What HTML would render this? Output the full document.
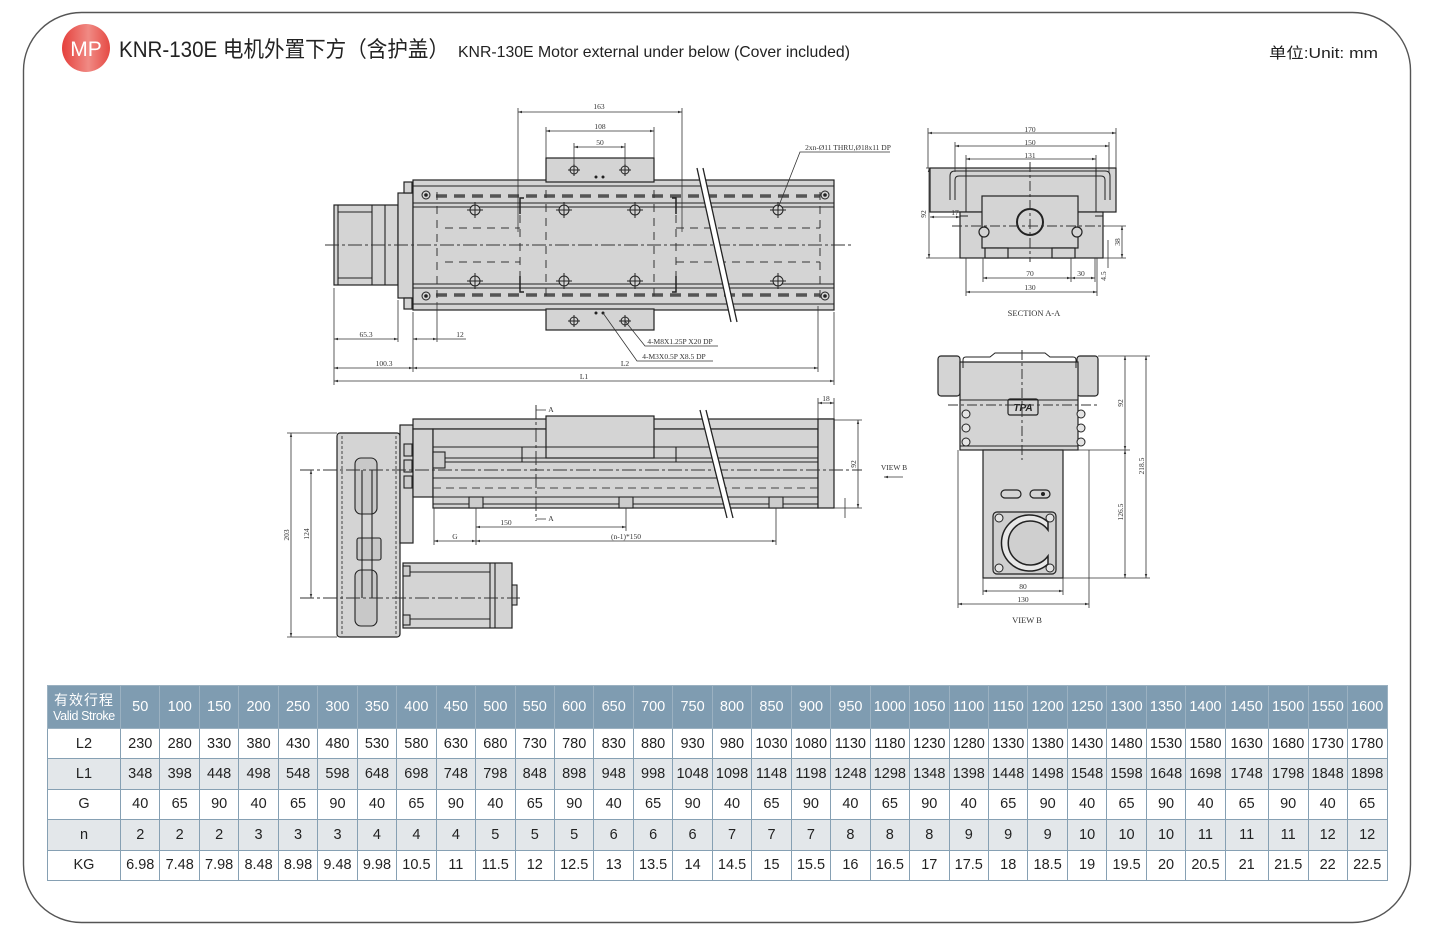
<!DOCTYPE html>
<html><head><meta charset="utf-8">
<style>
html,body{margin:0;padding:0;background:#fff;}
body{width:1440px;height:936px;position:relative;overflow:hidden;font-family:"Liberation Sans","Noto Sans CJK SC",sans-serif;}
svg{position:absolute;left:0;top:0;}
table{position:absolute;left:47px;top:685px;border-collapse:collapse;table-layout:fixed;width:1340px;}
td{border:1px solid #86a0b3;text-align:center;font-size:14.5px;color:#222;padding:0;height:29.4px;white-space:nowrap;overflow:hidden;}
tr.h td{background:#7f9cb1;color:#fff;height:42px;font-size:14.5px;border-color:#9bb1c1;}
tr.g td{background:#e3e7ea;}
.vs{font-size:12.5px;letter-spacing:-0.4px;display:block;line-height:14px;}
.cn{font-size:14px;display:block;line-height:17px;letter-spacing:1px;}
</style></head><body>
<svg width="1440" height="936" viewBox="0 0 1440 936" xmlns="http://www.w3.org/2000/svg">
<defs>
<marker id="a" viewBox="0 0 10 10" refX="10" refY="5" markerWidth="5" markerHeight="5" orient="auto-start-reverse"><path d="M0,2 L10,5 L0,8z" fill="#333"/></marker>
<linearGradient id="mp" x1="0" y1="0" x2="1" y2="0"><stop offset="0" stop-color="#e5403c"/><stop offset="0.55" stop-color="#f08a84"/><stop offset="1" stop-color="#e54a44"/></linearGradient>
</defs>
<!-- frame -->
<rect x="23.5" y="12.5" width="1387" height="910" rx="58" ry="58" fill="none" stroke="#555" stroke-width="1.4"/>
<!-- header -->
<circle cx="86" cy="48" r="24" fill="url(#mp)"/>
<text x="86" y="56" text-anchor="middle" font-family="Liberation Sans, sans-serif" font-size="21" fill="#fff">MP</text>
<text x="119" y="57" font-family="Liberation Sans, 'Noto Sans CJK SC', sans-serif" font-size="22" fill="#222" textLength="330" lengthAdjust="spacingAndGlyphs">KNR-130E 电机外置下方（含护盖）</text>
<text x="458" y="57" font-family="Liberation Sans, sans-serif" font-size="16" fill="#222" textLength="392" lengthAdjust="spacingAndGlyphs">KNR-130E Motor external under below (Cover included)</text>
<text x="1269" y="58" font-family="Liberation Sans, 'Noto Sans CJK SC', sans-serif" font-size="15" fill="#222" textLength="109" lengthAdjust="spacingAndGlyphs">单位:Unit: mm</text>

<!-- ============ TOP VIEW ============ -->
<g fill="#d4d4d4" stroke="#222" stroke-width="1.2">
 <rect x="334" y="205" width="64" height="80"/>
 <rect x="398" y="193" width="15" height="105"/>
 <rect x="404" y="182" width="8" height="11"/>
 <rect x="404" y="298" width="8" height="11"/>
 <rect x="413" y="180" width="421" height="130"/>
 <rect x="546" y="158" width="108" height="24"/>
 <rect x="546" y="309" width="108" height="21"/>
</g>
<g stroke="#222" stroke-width="1.1" fill="none">
 <line x1="338" y1="205" x2="338" y2="285"/>
 <line x1="338" y1="212" x2="372" y2="212"/><line x1="338" y1="278" x2="372" y2="278"/>
 <line x1="372" y1="205" x2="372" y2="285"/><line x1="385" y1="205" x2="385" y2="285"/>
 <line x1="413" y1="186" x2="834" y2="186"/><line x1="413" y1="304" x2="834" y2="304"/>
 <line x1="413" y1="203" x2="834" y2="203"/><line x1="413" y1="207" x2="834" y2="207"/>
 <line x1="413" y1="284" x2="834" y2="284"/><line x1="413" y1="288" x2="834" y2="288"/>
 <line x1="546" y1="182" x2="654" y2="182"/>
</g>
<g stroke="#555" stroke-width="3.5" stroke-dasharray="11 7">
 <line x1="436" y1="196" x2="820" y2="196"/>
 <line x1="436" y1="295" x2="820" y2="295"/>
</g>
<g stroke="#333" stroke-width="1" stroke-dasharray="8 6" fill="none">
 <line x1="445" y1="228" x2="520" y2="228"/><line x1="445" y1="262" x2="520" y2="262"/>
 <line x1="676" y1="228" x2="820" y2="228"/><line x1="676" y1="262" x2="820" y2="262"/>
 <line x1="437" y1="192" x2="437" y2="300"/>
 <line x1="520" y1="215" x2="520" y2="280"/>
 <line x1="546" y1="190" x2="546" y2="300"/>
 <line x1="654" y1="190" x2="654" y2="300"/>
 <line x1="676" y1="215" x2="676" y2="280"/>
 <line x1="820" y1="192" x2="820" y2="300"/>
</g>
<g stroke="#222" stroke-width="1.5" fill="none">
 <path d="M524,198 H520 V214 M524,292 H520 V276 M672,198 H676 V214 M672,292 H676 V276"/>
</g>
<line x1="325" y1="245" x2="853" y2="245" stroke="#333" stroke-width="1" stroke-dasharray="14 3 3 3"/>
<!-- holes -->
<g stroke="#222" stroke-width="1" fill="#d4d4d4">
 <circle cx="475" cy="210" r="5"/><circle cx="475" cy="281" r="5"/>
 <circle cx="564" cy="210" r="5"/><circle cx="564" cy="281" r="5"/>
 <circle cx="635" cy="210" r="5"/><circle cx="635" cy="281" r="5"/>
 <circle cx="778" cy="210" r="5"/><circle cx="778" cy="281" r="5"/>
 <circle cx="574" cy="170" r="4"/><circle cx="625" cy="170" r="4"/>
 <circle cx="574" cy="321" r="4"/><circle cx="625" cy="321" r="4"/>
 <circle cx="426" cy="195" r="4"/><circle cx="426" cy="296" r="4"/>
 <circle cx="825" cy="195" r="4"/><circle cx="825" cy="296" r="4"/>
</g>
<g stroke="#222" stroke-width="1">
 <path d="M475,202V218M467,210H483M475,273V289M467,281H483M564,202V218M556,210H572M564,273V289M556,281H572M635,202V218M627,210H643M635,273V289M627,281H643M778,202V218M770,210H786M778,273V289M770,281H786"/>
 <path d="M574,164V176M568,170H580M625,164V176M619,170H631M574,315V327M568,321H580M625,315V327M619,321H631"/>
</g>
<g fill="#222"><circle cx="426" cy="195" r="1.8"/><circle cx="426" cy="296" r="1.8"/><circle cx="825" cy="195" r="1.8"/><circle cx="825" cy="296" r="1.8"/>
<circle cx="596" cy="177" r="1.5"/><circle cx="603" cy="177" r="1.5"/><circle cx="596" cy="313" r="1.5"/><circle cx="603" cy="313" r="1.5"/></g>
<!-- break -->
<polygon points="697,168 703,168 737,322 731,322" fill="#fff"/>
<g stroke="#222" stroke-width="1.3"><line x1="697" y1="168" x2="731" y2="322"/><line x1="703" y1="168" x2="737" y2="322"/></g>
<!-- top dims -->
<g stroke="#333" stroke-width="0.8" fill="none">
 <line x1="518" y1="108" x2="518" y2="232"/><line x1="682" y1="108" x2="682" y2="232"/>
 <line x1="546" y1="127" x2="546" y2="158"/><line x1="654" y1="127" x2="654" y2="158"/>
 <line x1="574" y1="143" x2="574" y2="165"/><line x1="625" y1="143" x2="625" y2="165"/>
 <line x1="518" y1="112" x2="682" y2="112" marker-start="url(#a)" marker-end="url(#a)"/>
 <line x1="546" y1="131" x2="654" y2="131" marker-start="url(#a)" marker-end="url(#a)"/>
 <line x1="574" y1="147" x2="625" y2="147" marker-start="url(#a)" marker-end="url(#a)"/>
 <line x1="334" y1="288" x2="334" y2="385"/><line x1="398" y1="300" x2="398" y2="342"/>
 <line x1="413" y1="312" x2="413" y2="372"/><line x1="437" y1="302" x2="437" y2="342"/>
 <line x1="818" y1="306" x2="818" y2="372"/><line x1="834" y1="312" x2="834" y2="385"/>
 <line x1="334" y1="339" x2="398" y2="339" marker-start="url(#a)" marker-end="url(#a)"/>
 <line x1="413" y1="339" x2="437" y2="339" marker-start="url(#a)" marker-end="url(#a)"/>
 <line x1="437" y1="339" x2="466" y2="339"/>
 <line x1="334" y1="368" x2="413" y2="368" marker-start="url(#a)" marker-end="url(#a)"/>
 <line x1="413" y1="368" x2="818" y2="368" marker-start="url(#a)" marker-end="url(#a)"/>
 <line x1="334" y1="381" x2="834" y2="381" marker-start="url(#a)" marker-end="url(#a)"/>
 <path d="M603,313 L637,361 H713"/><path d="M625,321 L645,346 H718"/>
 <path d="M778,208 L800,152 H890"/>
</g>
<g font-family="Liberation Serif, serif" font-size="7.5" fill="#333" text-anchor="middle">
 <text x="599" y="109">163</text><text x="600" y="129">108</text><text x="600" y="145">50</text>
 <text x="366" y="337">65.3</text><text x="460" y="337">12</text>
 <text x="384" y="366">100.3</text><text x="625" y="366">L2</text><text x="584" y="379">L1</text>
 <text x="680" y="344" text-anchor="middle">4-M8X1.25P X20 DP</text>
 <text x="674" y="359">4-M3X0.5P X8.5 DP</text>
 <text x="848" y="150">2xn-Ø11 THRU,Ø18x11 DP</text>
</g>

<!-- ============ SIDE VIEW ============ -->
<g fill="#d4d4d4" stroke="#222" stroke-width="1.2">
 <rect x="337" y="433" width="63" height="204" rx="3"/>
 <rect x="400" y="425" width="13" height="118"/>
 <rect x="403" y="563" width="109" height="65"/>
 <rect x="413" y="419" width="421" height="10"/>
 <rect x="413" y="429" width="20" height="68"/>
 <rect x="433" y="429" width="385" height="79"/>
 <rect x="818" y="419" width="16" height="89"/>
 <rect x="546" y="416" width="108" height="42"/>
</g>
<g stroke="#222" stroke-width="1.1" fill="none">
 <line x1="433" y1="447" x2="818" y2="447"/><line x1="433" y1="458" x2="818" y2="458"/>
 <line x1="433" y1="462" x2="818" y2="462"/><line x1="433" y1="478" x2="818" y2="478"/>
 <line x1="433" y1="497" x2="818" y2="497"/><line x1="433" y1="504" x2="818" y2="504"/>
 <path d="M522,462 V447 H546 M654,447 H676 V462"/>
 <rect x="469" y="497" width="14" height="11" fill="#ccc"/><rect x="619" y="497" width="14" height="11" fill="#ccc"/><rect x="769" y="497" width="14" height="11" fill="#ccc"/>
 <rect x="433" y="452" width="12" height="16" fill="#ccc"/>
 <rect x="404" y="444" width="8" height="12" fill="#ccc"/><rect x="404" y="460" width="8" height="12" fill="#ccc"/><rect x="404" y="476" width="8" height="12" fill="#ccc"/>
 <rect x="355" y="458" width="22" height="56" rx="6" fill="#c8c8c8"/>
 <rect x="357" y="538" width="24" height="22" rx="2" fill="#c8c8c8"/>
 <rect x="355" y="570" width="22" height="56" rx="6" fill="#c8c8c8"/>
 <line x1="362" y1="470" x2="362" y2="598"/><line x1="372" y1="470" x2="372" y2="598"/>
 <line x1="490" y1="563" x2="490" y2="628"/><line x1="495" y1="563" x2="495" y2="628"/>
 <line x1="410" y1="572" x2="490" y2="572"/><line x1="410" y1="619" x2="490" y2="619"/>
 <rect x="403" y="566" width="7" height="10" fill="#ccc"/><rect x="403" y="615" width="7" height="10" fill="#ccc"/>
 <rect x="512" y="585" width="5" height="20" fill="#ccc"/>
</g>
<g stroke="#444" stroke-width="1" stroke-dasharray="3 2" fill="none">
 <line x1="342" y1="436" x2="342" y2="634"/><line x1="396" y1="436" x2="396" y2="634"/>
 <line x1="433" y1="488" x2="818" y2="488" stroke-dasharray="8 5"/>
</g>
<g stroke="#333" stroke-width="1" stroke-dasharray="14 3 3 3">
 <line x1="300" y1="470" x2="862" y2="470"/>
 <line x1="300" y1="598" x2="520" y2="598"/>
 <line x1="536" y1="405" x2="536" y2="521"/>
</g>
<polygon points="700,410 706,410 733,518 727,518" fill="#fff"/>
<g stroke="#222" stroke-width="1.3"><line x1="700" y1="410" x2="727" y2="518"/><line x1="706" y1="410" x2="733" y2="518"/></g>
<g stroke="#333" stroke-width="0.8" fill="none">
 <path d="M536,410 H546 M536,519 H546"/>
 <line x1="287" y1="433" x2="337" y2="433"/><line x1="287" y1="637" x2="337" y2="637"/>
 <line x1="291" y1="433" x2="291" y2="637" marker-start="url(#a)" marker-end="url(#a)"/>
 <line x1="311" y1="470" x2="311" y2="598" marker-start="url(#a)" marker-end="url(#a)"/>
 <line x1="818" y1="398" x2="818" y2="419"/><line x1="834" y1="398" x2="834" y2="419"/>
 <line x1="818" y1="403" x2="834" y2="403" marker-start="url(#a)" marker-end="url(#a)"/>
 <line x1="834" y1="420" x2="862" y2="420"/><line x1="834" y1="508" x2="862" y2="508"/>
 <line x1="858" y1="420" x2="858" y2="508" marker-start="url(#a)" marker-end="url(#a)"/>
 <line x1="845" y1="498" x2="845" y2="518"/>
 <line x1="434" y1="508" x2="434" y2="545"/><line x1="476" y1="508" x2="476" y2="545"/>
 <line x1="626" y1="508" x2="626" y2="531"/><line x1="776" y1="508" x2="776" y2="545"/>
 <line x1="476" y1="527" x2="626" y2="527" marker-start="url(#a)" marker-end="url(#a)"/>
 <line x1="434" y1="541" x2="476" y2="541" marker-start="url(#a)" marker-end="url(#a)"/>
 <line x1="476" y1="541" x2="776" y2="541" marker-start="url(#a)" marker-end="url(#a)"/>
 <line x1="884" y1="477" x2="903" y2="477" marker-start="url(#a)"/>
</g>
<g font-family="Liberation Serif, serif" font-size="7.5" fill="#333" text-anchor="middle">
 <text x="551" y="412">A</text><text x="551" y="521">A</text>
 <text x="826" y="401">18</text>
 <text x="506" y="525">150</text><text x="455" y="539">G</text><text x="626" y="539">(n-1)*150</text>
 <text x="894" y="470">VIEW B</text>
 <text transform="translate(289,535) rotate(-90)">203</text>
 <text transform="translate(309,534) rotate(-90)">124</text>
 <text transform="translate(856,464) rotate(-90)">92</text>
</g>

<!-- ============ SECTION A-A ============ -->
<g fill="#d4d4d4" stroke="#222" stroke-width="1.2">
 <rect x="930" y="168" width="186" height="44"/>
 <rect x="960" y="212" width="143" height="46"/>
 <rect x="982" y="196" width="96" height="52"/>
 <rect x="985" y="248" width="23" height="10"/><rect x="1052" y="248" width="23" height="10"/>
 <circle cx="1030" cy="222" r="13" stroke-width="2"/>
 <circle cx="984" cy="232" r="5"/><circle cx="1077" cy="232" r="5"/>
</g>
<g stroke="#222" stroke-width="1" fill="none">
 <path d="M950,200 V176 Q950,171 955,171 H1105 Q1110,171 1110,176 V200"/>
 <path d="M955,200 V180 Q955,176 959,176 H1101 Q1105,176 1105,180 V200"/>
 <line x1="966" y1="168" x2="966" y2="212"/><line x1="1096" y1="168" x2="1096" y2="212"/>
 <path d="M960,216 h8 M1095,216 h8"/>
</g>
<g stroke="#333" stroke-width="1" stroke-dasharray="10 3 3 3">
 <line x1="1030" y1="162" x2="1030" y2="262"/>
 <line x1="952" y1="226" x2="1105" y2="226"/>
</g>
<g stroke="#333" stroke-width="0.8" fill="none">
 <line x1="928" y1="128" x2="928" y2="168"/><line x1="1116" y1="128" x2="1116" y2="168"/>
 <line x1="955" y1="142" x2="955" y2="172"/><line x1="1109" y1="142" x2="1109" y2="172"/>
 <line x1="966" y1="155" x2="966" y2="168"/><line x1="1096" y1="155" x2="1096" y2="168"/>
 <line x1="928" y1="133" x2="1116" y2="133" marker-start="url(#a)" marker-end="url(#a)"/>
 <line x1="955" y1="146" x2="1109" y2="146" marker-start="url(#a)" marker-end="url(#a)"/>
 <line x1="966" y1="159" x2="1096" y2="159" marker-start="url(#a)" marker-end="url(#a)"/>
 <line x1="926" y1="168" x2="930" y2="168"/><line x1="926" y1="258" x2="960" y2="258"/>
 <line x1="929" y1="168" x2="929" y2="258" marker-start="url(#a)" marker-end="url(#a)"/>
 <line x1="930" y1="217" x2="960" y2="217" marker-start="url(#a)" marker-end="url(#a)"/>
 <line x1="1103" y1="226" x2="1126" y2="226"/><line x1="1103" y1="258" x2="1126" y2="258"/>
 <line x1="1122" y1="226" x2="1122" y2="258" marker-start="url(#a)" marker-end="url(#a)"/>
 <line x1="1108" y1="240" x2="1108" y2="268"/>
 <line x1="983" y1="258" x2="983" y2="282"/><line x1="1071" y1="258" x2="1071" y2="282"/><line x1="1095" y1="258" x2="1095" y2="282"/>
 <line x1="966" y1="258" x2="966" y2="296"/><line x1="1097" y1="258" x2="1097" y2="296"/>
 <line x1="983" y1="278" x2="1071" y2="278" marker-start="url(#a)" marker-end="url(#a)"/>
 <line x1="1071" y1="278" x2="1095" y2="278" marker-start="url(#a)" marker-end="url(#a)"/>
 <line x1="966" y1="292" x2="1097" y2="292" marker-start="url(#a)" marker-end="url(#a)"/>
</g>
<g font-family="Liberation Serif, serif" font-size="7.5" fill="#333" text-anchor="middle">
 <text x="1030" y="132">170</text><text x="1030" y="145">150</text><text x="1030" y="158">131</text>
 <text x="955" y="215">17</text>
 <text x="1030" y="276">70</text><text x="1081" y="276">30</text><text x="1030" y="290">130</text>
 <text transform="translate(926,214) rotate(-90)">92</text>
 <text transform="translate(1120,242) rotate(-90)">38</text>
 <text transform="translate(1106,276) rotate(-90)">4.5</text>
 <text x="1034" y="316" font-size="8.5">SECTION A-A</text>
</g>

<!-- ============ VIEW B ============ -->
<g fill="#d4d4d4" stroke="#222" stroke-width="1.2">
 <rect x="938" y="356" width="22" height="40" rx="3"/>
 <rect x="1077" y="356" width="21" height="40" rx="3"/>
 <rect x="960" y="362" width="118" height="88"/>
 <rect x="983" y="450" width="80" height="128"/>
 <rect x="993" y="512" width="63" height="62" rx="4" fill="#cfcfcf"/>
 <rect x="1008" y="399" width="30" height="16" rx="2"/>
 <rect x="1001" y="490" width="20" height="8" rx="4"/>
 <rect x="1030" y="490" width="20" height="8" rx="4"/>
</g>
<g stroke="#222" stroke-width="1" fill="none">
 <path d="M963,368 V360 Q963,357 966,357 H990 L995,353 H1045 L1050,357 H1073 Q1076,357 1076,360 V368"/>
 <line x1="960" y1="446" x2="1078" y2="446"/>
 <line x1="960" y1="400" x2="1078" y2="400"/>
 <path d="M1048,530 A22,22 0 1 0 1048,556 L1048,564 A28,28 0 1 1 1048,522 Z" fill="#e8e8e8" stroke-width="1.5"/>
</g>
<g fill="#e4e4e4" stroke="#222" stroke-width="1">
 <circle cx="966" cy="414" r="4"/><circle cx="966" cy="428" r="4"/><circle cx="966" cy="442" r="4"/>
 <circle cx="1081" cy="414" r="4"/><circle cx="1081" cy="428" r="4"/><circle cx="1081" cy="442" r="4"/>
 <circle cx="999" cy="518" r="4"/><circle cx="1050" cy="518" r="4"/><circle cx="999" cy="568" r="4"/><circle cx="1050" cy="568" r="4"/>
</g>
<circle cx="1043" cy="494" r="2" fill="#222"/>
<text x="1023" y="411" text-anchor="middle" font-family="Liberation Sans, sans-serif" font-weight="bold" font-style="italic" font-size="10" fill="#222">TPA</text>
<g stroke="#333" stroke-width="1" stroke-dasharray="10 3 3 3">
 <line x1="948" y1="405" x2="1100" y2="405"/>
 <line x1="1022" y1="350" x2="1022" y2="460"/>
</g>
<g stroke="#333" stroke-width="0.8" fill="none">
 <line x1="1098" y1="356" x2="1150" y2="356"/><line x1="1063" y1="450" x2="1130" y2="450"/><line x1="1063" y1="578" x2="1150" y2="578"/>
 <line x1="1125" y1="356" x2="1125" y2="450" marker-start="url(#a)" marker-end="url(#a)"/>
 <line x1="1125" y1="450" x2="1125" y2="578" marker-start="url(#a)" marker-end="url(#a)"/>
 <line x1="1146" y1="356" x2="1146" y2="578" marker-start="url(#a)" marker-end="url(#a)"/>
 <line x1="983" y1="578" x2="983" y2="595"/><line x1="1063" y1="578" x2="1063" y2="595"/>
 <line x1="958" y1="450" x2="958" y2="608"/><line x1="1089" y1="450" x2="1089" y2="608"/>
 <line x1="983" y1="591" x2="1063" y2="591" marker-start="url(#a)" marker-end="url(#a)"/>
 <line x1="958" y1="604" x2="1089" y2="604" marker-start="url(#a)" marker-end="url(#a)"/>
</g>
<g font-family="Liberation Serif, serif" font-size="7.5" fill="#333" text-anchor="middle">
 <text x="1023" y="589">80</text><text x="1023" y="602">130</text>
 <text transform="translate(1123,403) rotate(-90)">92</text>
 <text transform="translate(1123,512) rotate(-90)">126.5</text>
 <text transform="translate(1144,466) rotate(-90)">218.5</text>
 <text x="1027" y="623" font-size="8.5">VIEW B</text>
</g>
</svg>

<table>
<colgroup>
<col style="width:73px">
<col style="width:39.46px"><col style="width:39.46px"><col style="width:39.46px"><col style="width:39.46px"><col style="width:39.46px"><col style="width:39.46px"><col style="width:39.46px"><col style="width:39.46px"><col style="width:39.46px"><col style="width:39.46px">
<col style="width:39.46px"><col style="width:39.46px"><col style="width:39.46px"><col style="width:39.46px"><col style="width:39.46px"><col style="width:39.46px"><col style="width:39.46px"><col style="width:39.46px"><col style="width:39.46px"><col style="width:39.46px">
<col style="width:39.46px"><col style="width:39.46px"><col style="width:39.46px"><col style="width:39.46px"><col style="width:39.46px"><col style="width:39.46px"><col style="width:39.46px"><col style="width:39.46px">
<col style="width:43px"><col style="width:40px"><col style="width:39px"><col style="width:40px">
</colgroup>
<tr class="h"><td><span class="cn">有效行程</span><span class="vs">Valid Stroke</span></td><td>50</td><td>100</td><td>150</td><td>200</td><td>250</td><td>300</td><td>350</td><td>400</td><td>450</td><td>500</td><td>550</td><td>600</td><td>650</td><td>700</td><td>750</td><td>800</td><td>850</td><td>900</td><td>950</td><td>1000</td><td>1050</td><td>1100</td><td>1150</td><td>1200</td><td>1250</td><td>1300</td><td>1350</td><td>1400</td><td>1450</td><td>1500</td><td>1550</td><td>1600</td></tr>
<tr><td>L2</td><td>230</td><td>280</td><td>330</td><td>380</td><td>430</td><td>480</td><td>530</td><td>580</td><td>630</td><td>680</td><td>730</td><td>780</td><td>830</td><td>880</td><td>930</td><td>980</td><td>1030</td><td>1080</td><td>1130</td><td>1180</td><td>1230</td><td>1280</td><td>1330</td><td>1380</td><td>1430</td><td>1480</td><td>1530</td><td>1580</td><td>1630</td><td>1680</td><td>1730</td><td>1780</td></tr>
<tr class="g"><td>L1</td><td>348</td><td>398</td><td>448</td><td>498</td><td>548</td><td>598</td><td>648</td><td>698</td><td>748</td><td>798</td><td>848</td><td>898</td><td>948</td><td>998</td><td>1048</td><td>1098</td><td>1148</td><td>1198</td><td>1248</td><td>1298</td><td>1348</td><td>1398</td><td>1448</td><td>1498</td><td>1548</td><td>1598</td><td>1648</td><td>1698</td><td>1748</td><td>1798</td><td>1848</td><td>1898</td></tr>
<tr><td>G</td><td>40</td><td>65</td><td>90</td><td>40</td><td>65</td><td>90</td><td>40</td><td>65</td><td>90</td><td>40</td><td>65</td><td>90</td><td>40</td><td>65</td><td>90</td><td>40</td><td>65</td><td>90</td><td>40</td><td>65</td><td>90</td><td>40</td><td>65</td><td>90</td><td>40</td><td>65</td><td>90</td><td>40</td><td>65</td><td>90</td><td>40</td><td>65</td></tr>
<tr class="g"><td>n</td><td>2</td><td>2</td><td>2</td><td>3</td><td>3</td><td>3</td><td>4</td><td>4</td><td>4</td><td>5</td><td>5</td><td>5</td><td>6</td><td>6</td><td>6</td><td>7</td><td>7</td><td>7</td><td>8</td><td>8</td><td>8</td><td>9</td><td>9</td><td>9</td><td>10</td><td>10</td><td>10</td><td>11</td><td>11</td><td>11</td><td>12</td><td>12</td></tr>
<tr><td>KG</td><td>6.98</td><td>7.48</td><td>7.98</td><td>8.48</td><td>8.98</td><td>9.48</td><td>9.98</td><td>10.5</td><td>11</td><td>11.5</td><td>12</td><td>12.5</td><td>13</td><td>13.5</td><td>14</td><td>14.5</td><td>15</td><td>15.5</td><td>16</td><td>16.5</td><td>17</td><td>17.5</td><td>18</td><td>18.5</td><td>19</td><td>19.5</td><td>20</td><td>20.5</td><td>21</td><td>21.5</td><td>22</td><td>22.5</td></tr>
</table>
</body></html>
